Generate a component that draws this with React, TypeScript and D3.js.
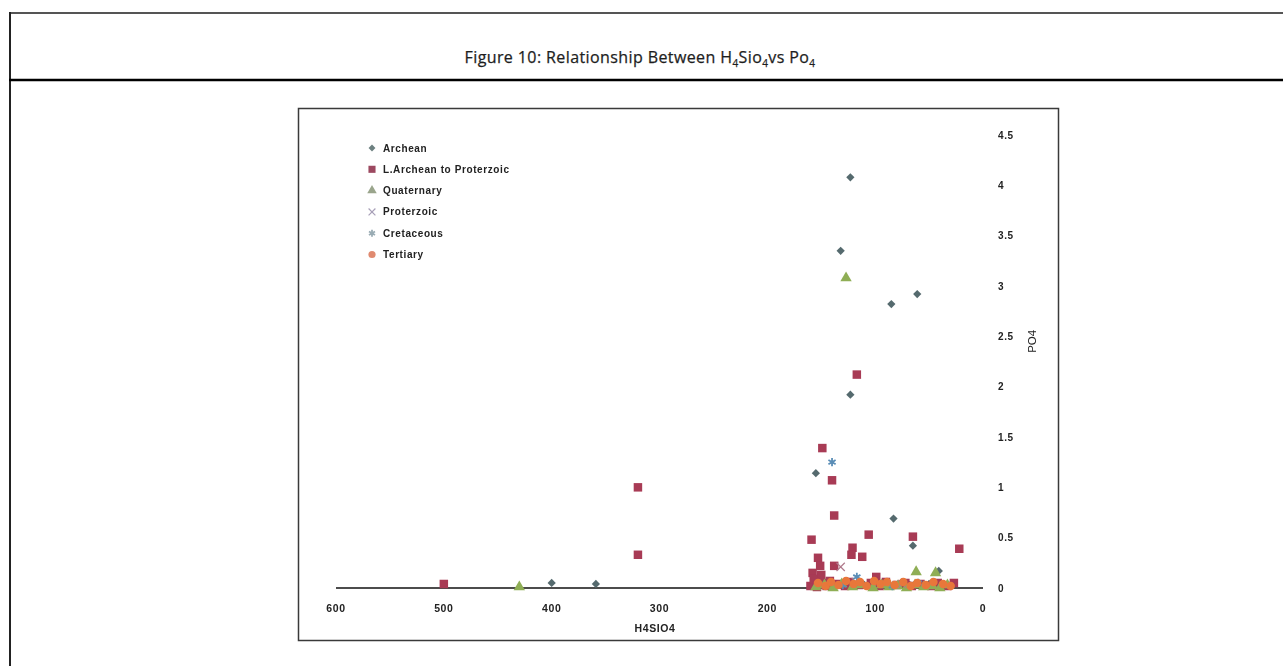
import React from "react";
import * as d3 from "d3";

// Axis ticks
const xTicks = [600, 500, 400, 300, 200, 100, 0];
const yTicks = [0, 0.5, 1, 1.5, 2, 2.5, 3, 3.5, 4, 4.5];

// Series values: [H4SiO4, PO4]
const archean: [number, number][] = [
  [123, 4.08], [132, 3.35], [85, 2.82], [61, 2.92], [123, 1.92], [155, 1.14],
  [83, 0.69], [65, 0.42], [41, 0.17], [400, 0.05], [359, 0.04],
  [93, 0.04], [86, 0.02], [76, 0.05], [68, 0.03], [57, 0.02], [50, 0.04], [38, 0.03], [110, 0.03],
];
const lateArchean: [number, number][] = [
  [320, 1.0], [320, 0.33], [500, 0.04], [117, 2.12], [149, 1.39], [140, 1.07], [138, 0.72],
  [106, 0.53], [159, 0.48], [65, 0.51], [22, 0.39], [121, 0.4], [122, 0.33], [112, 0.31],
  [153, 0.3], [138, 0.22], [151, 0.22], [158, 0.15], [150, 0.13], [156, 0.06], [151, 0.03],
  [99, 0.11], [27, 0.05],
  [160, 0.02], [157, 0.09], [154, 0.01], [148, 0.05], [145, 0.02], [142, 0.07], [135, 0.04],
  [128, 0.02], [124, 0.06], [115, 0.03], [104, 0.05], [96, 0.02], [90, 0.06], [80, 0.03],
  [72, 0.05], [66, 0.02], [58, 0.04], [48, 0.02], [42, 0.05], [33, 0.02],
];
const quaternary: [number, number][] = [
  [127, 3.08], [62, 0.16], [44, 0.15], [430, 0.01],
  [155, 0.01], [147, 0.03], [139, 0.0], [131, 0.04], [121, 0.01], [113, 0.03], [102, 0.0],
  [94, 0.03], [87, 0.01], [79, 0.02], [71, 0.0], [63, 0.03], [55, 0.01], [47, 0.02], [40, 0.0], [33, 0.03],
];
const proterzoic: [number, number][] = [[132, 0.21], [118, 0.06], [75, 0.04]];
const cretaceous: [number, number][] = [[140, 1.25], [117, 0.11], [130, 0.03], [84, 0.02], [60, 0.05]];
const tertiary: [number, number][] = [
  [153, 0.05], [146, 0.02], [141, 0.06], [134, 0.03], [127, 0.07], [120, 0.04], [114, 0.06],
  [108, 0.02], [101, 0.07], [95, 0.04], [89, 0.06], [82, 0.03], [74, 0.06], [67, 0.02],
  [61, 0.05], [53, 0.03], [46, 0.06], [37, 0.04], [30, 0.02],
];

type Series = {
  name: string;
  data: [number, number][];
  type: d3.SymbolType;
  size: number;
  rotate: number;
  fill: string;
  stroke: string;
  strokeWidth: number;
  legendFill?: string;
};

const series: Series[] = [
  { name: "Archean", data: archean, type: d3.symbolSquare, size: 34, rotate: 45, fill: "#556a6e", stroke: "none", strokeWidth: 0, legendFill: "#6d8080" },
  { name: "L.Archean to Proterzoic", data: lateArchean, type: d3.symbolSquare, size: 72, rotate: 0, fill: "#a83a55", stroke: "none", strokeWidth: 0, legendFill: "#9c4a60" },
  { name: "Quaternary", data: quaternary, type: d3.symbolTriangle, size: 56, rotate: 0, fill: "#8fae55", stroke: "none", strokeWidth: 0, legendFill: "#9aa58c" },
  { name: "Proterzoic", data: proterzoic, type: d3.symbolX, size: 46, rotate: 0, fill: "none", stroke: "#b07a8c", strokeWidth: 1.2, legendFill: "#a8a0b8" },
  { name: "Cretaceous", data: cretaceous, type: d3.symbolAsterisk, size: 48, rotate: 0, fill: "none", stroke: "#5a8db6", strokeWidth: 1.8, legendFill: "#9aacb4" },
  { name: "Tertiary", data: tertiary, type: d3.symbolCircle, size: 58, rotate: 0, fill: "#e8773a", stroke: "none", strokeWidth: 0, legendFill: "#e08a70" },
];

const x = d3.scaleLinear().domain([600, 0]).range([336, 983]);
const y = d3.scaleLinear().domain([0, 4.5]).range([588, 135]);

function Marker({ s, cx, cy, legend }: { s: Series; cx: number; cy: number; legend?: boolean }) {
  const path = d3.symbol().type(s.type).size(s.size)() || "";
  const isStroke = s.fill === "none";
  const color = legend && s.legendFill ? s.legendFill : isStroke ? s.stroke : s.fill;
  return (
    <path
      d={path}
      transform={`translate(${cx},${cy}) rotate(${s.rotate})`}
      fill={isStroke ? "none" : color}
      stroke={isStroke ? color : "none"}
      strokeWidth={s.strokeWidth}
    />
  );
}

export default function App() {
  const chartFont = "'Liberation Sans', Arial, sans-serif";
  return (
    <svg
      width={1283}
      height={666}
      style={{ position: "absolute", left: 0, top: 0, display: "block" }}
      fontFamily={chartFont}
    >
      <defs>
        <filter id="soft" x="-5%" y="-5%" width="110%" height="110%">
          <feGaussianBlur stdDeviation="0.5" />
        </filter>
      </defs>
      <rect x={0} y={0} width={1283} height={666} fill="#fff" />

      {/* outer table frame */}
      <line x1={9} x2={1283} y1={13} y2={13} stroke="#555" strokeWidth={2} />
      <line x1={10} x2={10} y1={12} y2={666} stroke="#222" strokeWidth={2} />
      <line x1={9} x2={1283} y1={80} y2={80} stroke="#000" strokeWidth={2.5} />

      {/* caption */}
      <text x={640} y={63} textAnchor="middle" fontSize={16} fill="#1e1e1e" letterSpacing={0.4} fontFamily="'Open Sans', Arial, sans-serif" stroke="#1e1e1e" strokeWidth={0.25}>
        <tspan>Figure 10: Relationship Between H</tspan>
        <tspan dy={4} fontSize={10}>4</tspan>
        <tspan dy={-4}>Sio</tspan>
        <tspan dy={4} fontSize={10}>4</tspan>
        <tspan dy={-4}>vs Po</tspan>
        <tspan dy={4} fontSize={10}>4</tspan>
      </text>

      {/* chart panel */}
      <rect x={298.5} y={108.5} width={760} height={532} fill="#fff" stroke="#3a3a3a" strokeWidth={1.5} />

      <g filter="url(#soft)">
        {/* x axis */}
        <line x1={x(600)} x2={x(0)} y1={y(0)} y2={y(0)} stroke="#111" strokeWidth={1.3} />
        {xTicks.map((t) => (
          <text key={`x${t}`} x={x(t)} y={612} textAnchor="middle" fontSize={10.5} fontWeight="bold" fill="#222" letterSpacing={0.6}>
            {t}
          </text>
        ))}
        <text x={655} y={632} textAnchor="middle" fontSize={10.5} fontWeight="bold" fill="#222" letterSpacing={0.6}>
          H4SIO4
        </text>

        {/* y axis (right side) */}
        {yTicks.map((t) => (
          <text key={`y${t}`} x={998} y={y(t) + 3.5} textAnchor="start" fontSize={10} fontWeight="bold" fill="#222" letterSpacing={0.6}>
            {String(t)}
          </text>
        ))}
        <text transform={`translate(1036,${y(2.45)}) rotate(-90)`} textAnchor="middle" fontSize={11.5} fill="#222">
          PO4
        </text>

        {/* points */}
        {series.map((s) => (
          <g key={s.name}>
            {s.data.map(([vx, vy], i) => (
              <Marker key={i} s={s} cx={x(vx)} cy={y(vy)} />
            ))}
          </g>
        ))}

        {/* legend */}
        {series.map((s, i) => (
          <g key={`lg${s.name}`} transform={`translate(372,${148 + i * 21.3})`}>
            <Marker s={{ ...s, size: s.size * 0.7 }} cx={0} cy={0} legend />
            <text x={11} y={3.5} fontSize={10} fontWeight="bold" fill="#222" letterSpacing={0.6}>
              {s.name}
            </text>
          </g>
        ))}
      </g>
    </svg>
  );
}
